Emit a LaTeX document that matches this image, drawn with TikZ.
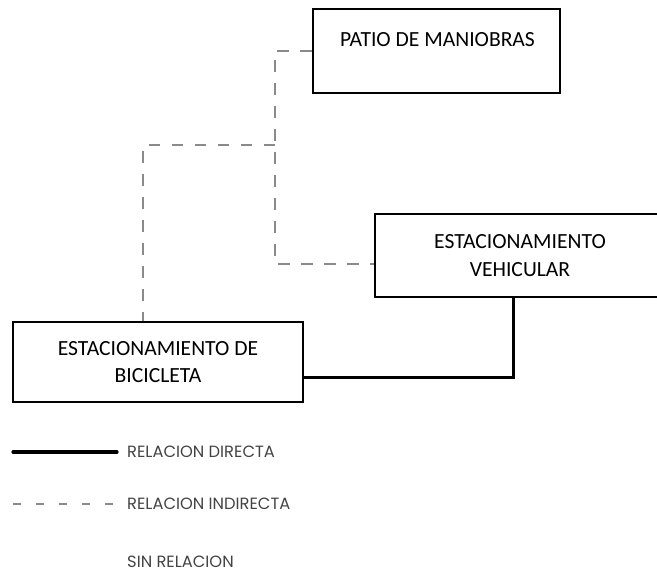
\documentclass[tikz,border=0pt]{standalone}
\usepackage{fontspec}
\setmainfont{Carlito}
\newfontfamily\legfont{Poppins}
\definecolor{dashgray}{HTML}{8A8A8A}
\definecolor{leggray}{HTML}{444444}
\tikzset{
  box/.style={draw=black, line width=2.6pt, rectangle, inner sep=0pt, align=center,
    font=\fontsize{21.6}{27.5}\selectfont},
  boxtext/.style={inner sep=0pt, font=\fontsize{21.6}{27.5}\selectfont},
  indirect/.style={draw=dashgray, line width=1.4pt, dash pattern=on 11.5pt off 11.5pt},
  direct/.style={draw=black, line width=3pt},
  legdirect/.style={draw=black, line width=3.2pt, line cap=round},
  legindirect/.style={draw=dashgray, line width=1.4pt, dash pattern=on 8pt off 15pt},
  legtext/.style={anchor=west, inner sep=0pt, text=leggray, font=\legfont\fontsize{16.3}{19}\selectfont}
}
\begin{document}
\begin{tikzpicture}[x=1pt,y=-1pt]
\useasboundingbox (0,0) rectangle (657,574);
% boxes
\node[box, minimum width=247pt, minimum height=84pt] (patio) at (436.5,51) {};
\node[boxtext] (patiotxt) at (437.5,40) {PATIO DE MANIOBRAS};
\node[box, minimum width=290pt, minimum height=83pt] (vehic) at (520,255.5) {ESTACIONAMIENTO\\VEHICULAR};
\node[box, minimum width=290pt, minimum height=80pt] (bici) at (158,362) {ESTACIONAMIENTO DE\\BICICLETA};
% junction
\coordinate (j1) at (275,145);
% indirect connectors
\draw[indirect] (patio.west) -| (j1) |- ([yshift=-8.5pt]vehic.west);
\draw[indirect] (j1) -| ([xshift=-15pt]bici.north);
% direct connector
\draw[direct] ([yshift=-15pt]bici.east) -| ([xshift=-7pt]vehic.south);
% legend
\coordinate (la1) at (13,452);
\coordinate (la2) at (117,452);
\coordinate (lb1) at (13,504);
\coordinate (lb2) at (117,504);
\draw[legdirect] (la1) -- (la2);
\draw[legindirect] (lb1) -- (lb2);
\node[legtext] (legd) at (127,452) {RELACION DIRECTA};
\node[legtext] (legi) at (127,504) {RELACION INDIRECTA};
\node[legtext] (legs) at (127,562) {SIN RELACION};
\end{tikzpicture}
\end{document}
